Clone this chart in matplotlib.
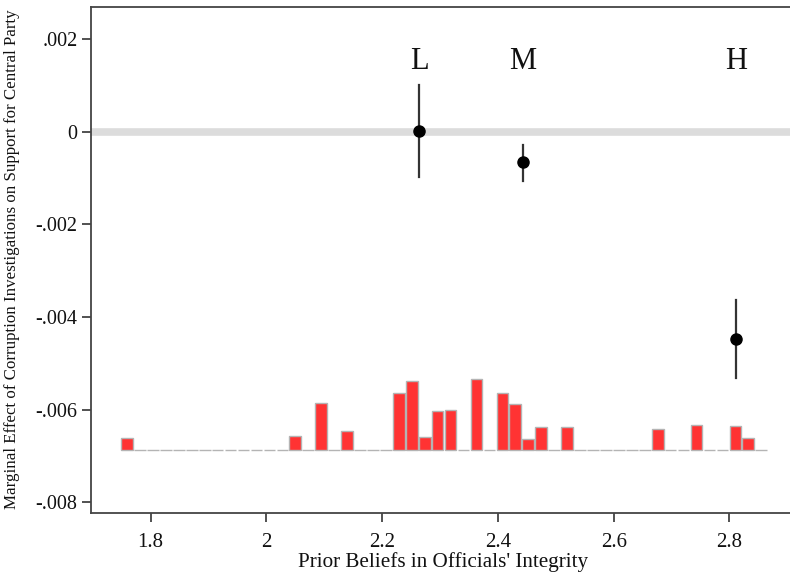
import matplotlib
matplotlib.use("Agg")
import matplotlib.pyplot as plt
import numpy as np

# ---- data ----
groups = ["L", "M", "H"]
group_x = [2.264, 2.443, 2.812]
effect = [0.00002, -0.00066, -0.00448]
ci_low = [-0.00097, -0.00106, -0.00532]
ci_high = [0.00101, -0.00029, -0.00363]
label_y = 0.00151

hist_start = 1.748
hist_binwidth = 0.02236
hist_base = -0.00686
# bar heights (in y-axis units) for 50 bins
hist_heights = [0.000259, 0, 0, 0, 0, 0, 0, 0, 0, 0,
                0, 0, 0, 0.000302, 0, 0.001014, 0, 0.000410, 0, 0,
                0, 0.001230, 0.001489, 0.000272, 0.000827, 0.000863, 0, 0.001532, 0, 0.001230,
                0.000984, 0.000229, 0.000488, 0, 0.000488, 0, 0, 0, 0, 0,
                0, 0.000432, 0, 0, 0.000524, 0, 0, 0.000518, 0.000259, 0]

xticks = [1.8, 2.0, 2.2, 2.4, 2.6, 2.8]
xticklabels = ["1.8", "2", "2.2", "2.4", "2.6", "2.8"]
yticks = [0.002, 0.0, -0.002, -0.004, -0.006, -0.008]
yticklabels = [".002", "0", "-.002", "-.004", "-.006", "-.008"]

plt.rcParams["font.family"] = ["Liberation Serif", "DejaVu Serif"]

fig = plt.figure(figsize=(7.9, 5.73), dpi=100)
ax = fig.add_axes([0.1148, 0.1042, 0.887, 0.8836])

ax.set_xlim(1.6964, 2.907)
ax.set_ylim(-0.008237, 0.002692)

# zero reference line
ax.axhline(0, color="#dcdcdc", lw=5.5, zorder=1)

# histogram
n = len(hist_heights)
lefts = hist_start + np.arange(n) * hist_binwidth
ax.bar(lefts + 0.05 * hist_binwidth, hist_heights, width=0.9 * hist_binwidth,
       bottom=hist_base, align="edge", color="#ff3333",
       edgecolor="#b4b4b4", linewidth=1.0, zorder=2)

# point estimates with CIs
for gx, e, lo, hi, g in zip(group_x, effect, ci_low, ci_high, groups):
    ax.plot([gx, gx], [lo, hi], color="#333333", lw=1.6, zorder=3)
    ax.plot(gx, e, "o", color="black", markersize=8, zorder=4)
    ax.text(gx, label_y, g, ha="center", va="center", fontsize=22, color="#111111")

ax.set_xticks(xticks)
ax.set_xticklabels(xticklabels)
ax.set_yticks(yticks)
ax.set_yticklabels(yticklabels)
ax.tick_params(axis="both", direction="out", length=6.5, width=1.2,
               color="#333333", labelcolor="#111111")
ax.tick_params(axis="x", pad=8, labelsize=15)
ax.tick_params(axis="y", pad=3, labelsize=14.5)

for s in ax.spines.values():
    s.set_color("#444444")
    s.set_linewidth(1.3)

ax.set_xlabel("Prior Beliefs in Officials' Integrity", fontsize=15.2,
              color="#111111")
ax.xaxis.label.set_va("center")
ax.xaxis.set_label_coords(0.5028, -0.0962)

ax.set_ylabel("Marginal Effect of Corruption Investigations on Support for Central Party",
              fontsize=12.2, color="#111111")
ax.yaxis.label.set_va("center")
ax.yaxis.set_label_coords(-0.1123, 0.502)

fig.savefig("out.png", dpi=100)
